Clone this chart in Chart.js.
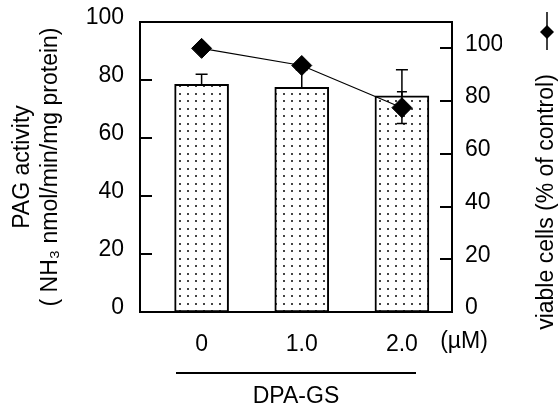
<!DOCTYPE html>
<html>
<head>
<meta charset="utf-8">
<script src="https://cdn.jsdelivr.net/npm/chart.js@4/dist/chart.umd.min.js"></script>
<style>
  html, body { margin: 0; padding: 0; background: #fff; }
  #wrap { width: 560px; height: 411px; }
</style>
</head>
<body>
<div id="wrap"><canvas id="myChart"></canvas></div>
<script>
// data
const doses = [0, 1.0, 2.0];
const doseLabels = ['0', '1.0', '2.0'];
const pagActivity = [78.5, 77.5, 74.5];
const pagError = [3.5, 6, 9];
const viableCells = [100, 93.5, 77.5];
const viableError = [0, 0, 6];
const leftTicks = [0, 20, 40, 60, 80, 100];
const rightTicks = [0, 20, 40, 60, 80, 100];

Chart.defaults.font.family = 'Arial, "Liberation Sans", sans-serif';
Chart.defaults.font.size = 23;
Chart.defaults.color = '#000';

function dotPattern() {
  const c = document.createElement('canvas');
  c.width = 8; c.height = 15;
  const p = c.getContext('2d');
  p.fillStyle = '#fff';
  p.fillRect(0, 0, 8, 15);
  p.fillStyle = '#444';
  p.fillRect(3, 3, 2, 2);
  p.fillRect(3, 10, 2, 2);
  return p.createPattern(c, 'repeat');
}

function drawErrors(chart, index) {
  const ds = chart.data.datasets[index];
  if (!ds.errors) return;
  const meta = chart.getDatasetMeta(index);
  const scale = chart.scales[meta.yAxisID];
  const ctx = chart.ctx;
  ctx.save();
  ctx.strokeStyle = '#000';
  ctx.lineWidth = 1.5;
  meta.data.forEach((el, i) => {
    const err = ds.errors[i];
    if (!err) return;
    const v = ds.data[i].y;
    const cap = ds.errorCap;
    const yHi = scale.getPixelForValue(v + err);
    const yLo = ds.errorBoth ? scale.getPixelForValue(v - err) : scale.getPixelForValue(v);
    ctx.beginPath();
    ctx.moveTo(el.x, yLo);
    ctx.lineTo(el.x, yHi);
    ctx.moveTo(el.x - cap, yHi);
    ctx.lineTo(el.x + cap, yHi);
    if (ds.errorBoth) {
      ctx.moveTo(el.x - cap, yLo);
      ctx.lineTo(el.x + cap, yLo);
    }
    ctx.stroke();
  });
  ctx.restore();
}

const errorBars = {
  id: 'errorBars',
  beforeDatasetDraw(chart, args) {
    if (chart.data.datasets[args.index].type === 'line') drawErrors(chart, args.index);
  },
  afterDatasetDraw(chart, args) {
    if (chart.data.datasets[args.index].type !== 'line') drawErrors(chart, args.index);
  }
};

// frame, inner ticks, axis extras
const frame = {
  id: 'frame',
  beforeDatasetsDraw(chart) {
    const {ctx, chartArea: a, scales} = chart;
    ctx.save();
    ctx.strokeStyle = '#000';
    ctx.lineWidth = 2;
    ctx.strokeRect(a.left, a.top, a.right - a.left, a.bottom - a.top);
    ctx.beginPath();
    scales.y.ticks.forEach(t => {
      if (t.value === scales.y.min || t.value === scales.y.max) return;
      const y = Math.round(scales.y.getPixelForValue(t.value));
      ctx.moveTo(a.left, y);
      ctx.lineTo(a.left + 12, y);
    });
    scales.y1.ticks.forEach(t => {
      if (t.value === scales.y1.min) return;
      const y = Math.round(scales.y1.getPixelForValue(t.value));
      ctx.moveTo(a.right - 12, y);
      ctx.lineTo(a.right, y);
    });
    ctx.stroke();
    ctx.restore();
  },
  afterDraw(chart) {
    const {ctx} = chart;
    ctx.save();
    ctx.fillStyle = '#000';
    ctx.strokeStyle = '#000';
    ctx.font = '23px Arial, "Liberation Sans", sans-serif';
    ctx.textAlign = 'center';
    ctx.textBaseline = 'middle';
    ctx.fillText('(\u00b5M)', 464, 342);
    // line over the DPA-GS label
    ctx.lineWidth = 2;
    ctx.beginPath();
    ctx.moveTo(176, 373);
    ctx.lineTo(416, 373);
    ctx.stroke();
    // legend symbol
    ctx.lineWidth = 1.5;
    ctx.beginPath();
    ctx.moveTo(547, 12);
    ctx.lineTo(547, 50);
    ctx.stroke();
    ctx.beginPath();
    ctx.moveTo(547, 25);
    ctx.lineTo(554, 32);
    ctx.lineTo(547, 39);
    ctx.lineTo(540, 32);
    ctx.closePath();
    ctx.fill();
    // right axis title
    ctx.translate(547, 202);
    ctx.rotate(-Math.PI / 2);
    ctx.fillText('viable cells (% of control)', 0, 0);
    ctx.restore();
  }
};

const ctx = document.getElementById('myChart').getContext('2d');
new Chart(ctx, {
  type: 'bar',
  data: {
    datasets: [
      {
        type: 'line',
        label: 'viable cells',
        data: doses.map((d, i) => ({x: d, y: viableCells[i]})),
        yAxisID: 'y1',
        borderColor: '#000',
        borderWidth: 1.2,
        backgroundColor: '#000',
        pointStyle: 'rectRot',
        pointRadius: 10,
        pointBorderWidth: 1,
        errors: viableError,
        errorCap: 5,
        errorBoth: true,
        order: 0
      },
      {
        type: 'bar',
        label: 'PAG activity',
        data: doses.map((d, i) => ({x: d, y: pagActivity[i]})),
        yAxisID: 'y',
        backgroundColor: dotPattern(),
        borderColor: '#000',
        borderWidth: 2,
        borderSkipped: false,
        barThickness: 54,
        errors: pagError,
        errorCap: 6,
        errorBoth: false,
        order: 1
      }
    ]
  },
  options: {
    responsive: true,
    maintainAspectRatio: false,
    animation: false,
    layout: {
      padding: {top: 22, right: 58, bottom: 0, left: 0}
    },
    plugins: {
      legend: {display: false},
      tooltip: {enabled: false}
    },
    scales: {
      x: {
        type: 'linear',
        offset: false,
        min: -0.615,
        max: 2.5,
        afterBuildTicks: (axis) => { axis.ticks = doses.map(v => ({value: v})); },
        afterFit: (axis) => { axis.height = 99; axis.paddingLeft = 0; axis.paddingRight = 0; },
        grid: {display: false, drawTicks: false},
        border: {display: false},
        ticks: {
          padding: 19,
          maxRotation: 0,
          callback: (v) => doseLabels[doses.indexOf(v)]
        },
        title: {
          display: true,
          text: 'DPA-GS',
          padding: {top: 28, bottom: 1}
        }
      },
      y: {
        position: 'left',
        min: 0,
        max: 100,
        afterBuildTicks: (axis) => { axis.ticks = leftTicks.map(v => ({value: v})); },
        afterFit: (axis) => { axis.width = 140; axis.paddingTop = 0; axis.paddingBottom = 0; },
        grid: {display: false, drawTicks: false},
        border: {display: false},
        ticks: {padding: 16, labelOffset: -4},
        title: {
          display: true,
          text: ['PAG activity', '( NH\u2083 nmol/min/mg protein)'],
          font: {size: 23, lineHeight: 1.2},
          padding: {top: 9, bottom: 10}
        }
      },
      y1: {
        position: 'right',
        min: 0,
        max: 110,
        afterBuildTicks: (axis) => { axis.ticks = rightTicks.map(v => ({value: v})); },
        afterFit: (axis) => { axis.width = 50; axis.paddingTop = 0; axis.paddingBottom = 0; },
        grid: {display: false, drawTicks: false},
        border: {display: false},
        ticks: {padding: 13, labelOffset: -4}
      }
    }
  },
  plugins: [errorBars, frame]
});
</script>
</body>
</html>
